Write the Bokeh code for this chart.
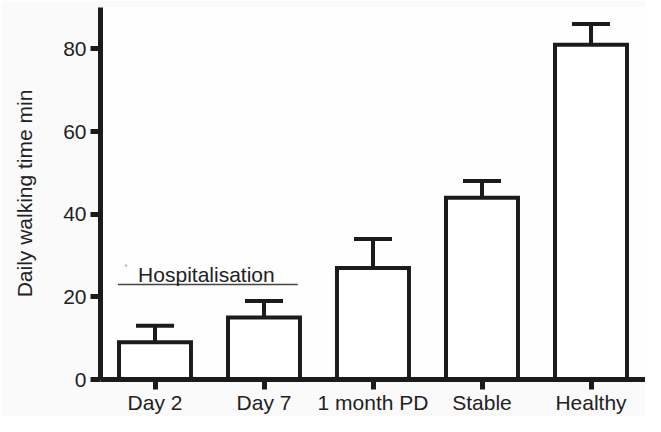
from bokeh.plotting import figure
from bokeh.models import Range1d, FactorRange, FixedTicker, Whisker, TeeHead, ColumnDataSource
from bokeh.core.properties import value
from bokeh.embed import file_html
from bokeh.resources import INLINE

categories = ["Day 2", "Day 7", "1 month PD", "Stable", "Healthy"]
means = [9.0, 15.0, 27.0, 44.0, 81.0]
errors = [4.0, 4.0, 7.0, 4.0, 5.0]
y_ticks = [0, 20, 40, 60, 80]
y_label = "Daily walking time min"
bracket_label = "Hospitalisation"
bracket_level = 23.0
bracket_text_level = 25.5

FONT = "Liberation Sans"
INK = "#1b1b1b"

src = ColumnDataSource(dict(
    cat=categories,
    mean=means,
    upper=[m + e for m, e in zip(means, errors)],
))

p = figure(
    width=645, height=416,
    x_range=FactorRange(factors=categories, range_padding=0),
    y_range=Range1d(0, 90),
    output_backend="svg", toolbar_location=None,
    min_border_left=100, min_border_right=0, min_border_top=7, min_border_bottom=34,
)
p.background_fill_color = "#fefefe"
p.border_fill_color = "#fafafa"
p.outline_line_color = None
p.grid.visible = False

p.vbar(x="cat", top="mean", width=0.66, bottom=0, source=src,
       fill_color="white", line_color=INK, line_width=4, line_join="miter")

wh = Whisker(base="cat", lower="mean", upper="upper", source=src,
             line_color=INK, line_width=4,
             upper_head=TeeHead(size=38, line_color=INK, line_width=4),
             lower_head=None)
p.add_layout(wh)

# Hospitalisation bracket spanning the first two categories
i0 = categories.index("Day 2") + 0.5
i1 = categories.index("Day 7") + 0.5
p.segment(x0=[i0 - 0.34], y0=[bracket_level], x1=[i1 + 0.31], y1=[bracket_level],
          line_color="#444444", line_width=1.5)
p.scatter(x=[i0 - 0.265], y=[27.6], size=2.5, color="#bbbbbb", line_color=None)
p.text(x=[i0 - 0.155], y=[bracket_text_level], text=[bracket_label],
       text_font=value(FONT), text_font_size="21px", text_color="#222222",
       text_baseline="alphabetic", text_align="left")

for ax in (p.xaxis[0], p.yaxis[0]):
    ax.axis_line_width = 5
    ax.axis_line_color = INK
    ax.major_tick_line_width = 5
    ax.major_tick_line_color = INK
    ax.major_tick_out = 10
    ax.major_tick_in = 0
    ax.minor_tick_line_color = None
    ax.major_label_text_font = FONT
    ax.major_label_text_font_size = "21px"
    ax.major_label_text_color = "#222222"

p.yaxis.ticker = FixedTicker(ticks=y_ticks)
p.yaxis.major_label_standoff = 4
p.xaxis.major_label_standoff = 1
p.yaxis.axis_label = y_label
p.yaxis.axis_label_text_font = FONT
p.yaxis.axis_label_text_font_size = "21px"
p.yaxis.axis_label_text_font_style = "normal"
p.yaxis.axis_label_text_color = "#222222"
p.yaxis.axis_label_standoff = 24

open("out.html", "w").write(file_html(p, INLINE))
